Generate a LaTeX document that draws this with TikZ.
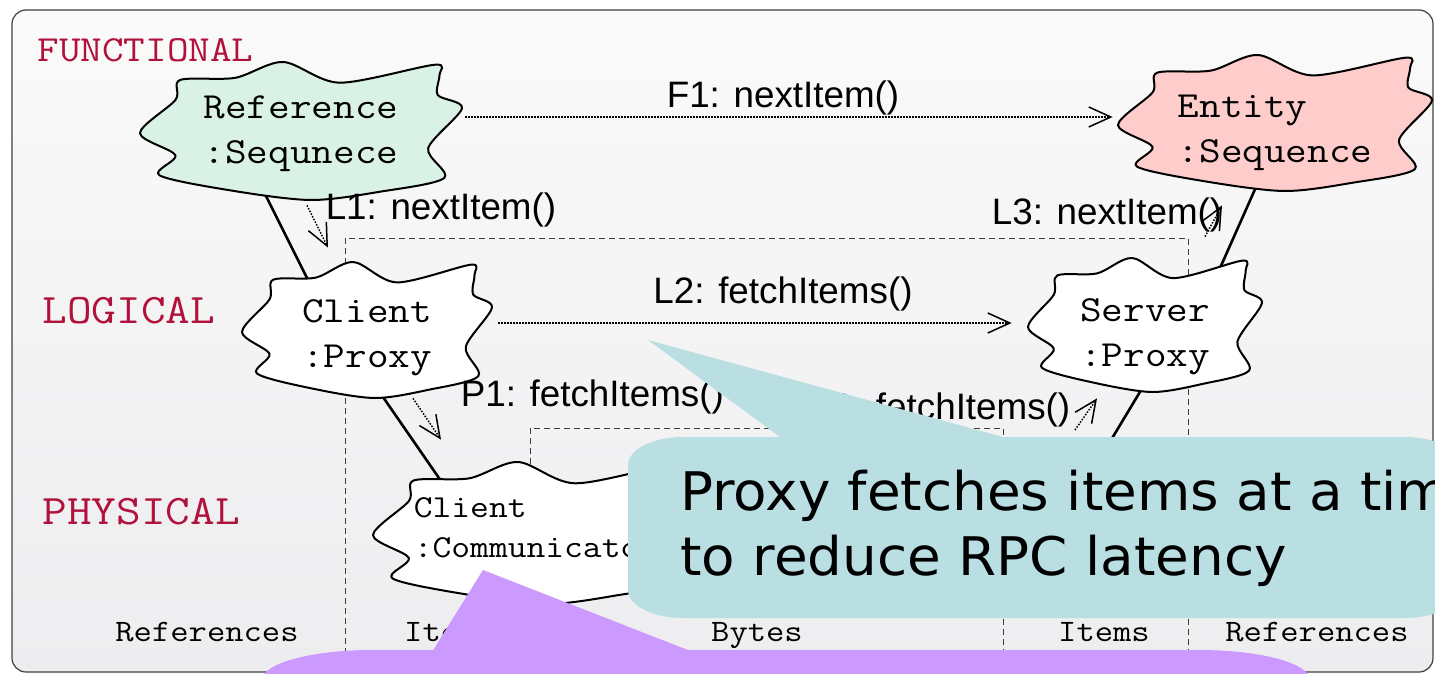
\documentclass[tikz,border=0pt]{standalone}
\usepackage{fontspec}
\setsansfont{Liberation Sans}
\setmonofont[FakeStretch=1.14]{Latin Modern Mono}
\newfontfamily\notefont[FakeStretch=1.03]{DejaVu Sans}
\usepackage{xcolor}
\usepackage{tikz}
\usetikzlibrary{calc,arrows.meta}
\definecolor{frameln}{HTML}{404040}
\definecolor{paneltop}{HTML}{FAFAFA}
\definecolor{panelbot}{HTML}{EDEDEF}
\definecolor{layer}{HTML}{B0123C}
\definecolor{refbg}{HTML}{DAF2E5}
\definecolor{entbg}{HTML}{FFCCCC}
\definecolor{notecyan}{HTML}{B9DFE3}
\definecolor{notepurple}{HTML}{CC99FF}
\definecolor{guide}{HTML}{3C3C3C}
\pgfdeclarelayer{back}
\pgfdeclarelayer{mid}
\pgfsetlayers{back,mid,main}
\newcommand{\blobpath}{plot[smooth cycle, tension=0.5] coordinates {(-0.75,-0.74) (-0.41,-0.77) (-0.11,-1.0) (0.24,-0.70) (0.83,-0.96) (0.86,-0.81) (0.85,-0.52) (1.0,-0.33) (0.79,0.25) (0.89,0.68) (0.49,0.88) (0.06,1.0) (-0.44,0.86) (-0.88,0.64) (-0.78,0.35) (-1.0,0.03) (-0.78,-0.45)}}
\newcommand{\blob}[8][]{%
  \draw[blob, fill=#7, shift={(#3,#4)}, xscale=#5, yscale=#6] \blobpath;
  \node[blobtxt, minimum width=#5pt, minimum height=#6pt, #1] (#2) at (#3,#4) {#8};}
\tikzset{
  blob/.style={draw=black, line width=1pt, line join=round},
  blobtxt/.style={font=\fontsize{18.4}{22.5}\selectfont\ttfamily, align=left, inner sep=0pt},
  layerlab/.style={text=layer, font=\fontsize{21}{25}\selectfont\ttfamily, anchor=west, inner sep=0pt},
  collab/.style={font=\fontsize{15.6}{18}\selectfont\ttfamily, inner sep=0pt, anchor=base},
  link/.style={draw=black, line width=1.3pt},
  call/.style={draw=black, line width=0.75pt, dash pattern=on 0.75pt off 0.75pt, -{Straight Barb[length=11pt,width=10pt]}},
  calllab/.style={font=\fontsize{18.4}{22}\selectfont\sffamily, inner sep=0pt},
  guideln/.style={draw=guide, line width=0.5pt, dash pattern=on 3pt off 2pt},
  notetxt/.style={font=\notefont\fontsize{26.6}{32.5}\selectfont, align=left, inner sep=0pt},
}
\begin{document}
\begin{tikzpicture}[x=0.5pt, y=-0.5pt]
  \useasboundingbox (0,0) rectangle (1435,674);
  \clip (0,0) rectangle (1435,674);

  % panel
  \begin{pgfonlayer}{back}
    \draw[frameln, line width=0.6pt, rounded corners=7pt, top color=paneltop, bottom color=panelbot] (12,10) rectangle (1433,672);
  \end{pgfonlayer}

  % layer names
  \node[layerlab, font=\fontsize{18.4}{22}\selectfont\ttfamily] (fun) at (37,50) {FUNCTIONAL};
  \node[layerlab] (log) at (42,311) {LOGICAL};
  \node[layerlab] (phy) at (42,512) {PHYSICAL};

  % objects
  \blob[yshift=-1.5pt]{ref}{301}{131}{161}{69}{refbg}{Reference\\:Sequnece}
  \blob[yshift=-5pt]{ent}{1275}{123}{157}{68}{entbg}{Entity\\:Sequence}
  \blob[yshift=-4pt]{cprox}{367}{330}{125}{68}{white}{Client\\:Proxy}
  \blob[yshift=-6pt]{sprox}{1145}{325}{117}{67}{white}{Server\\:Proxy}
  \blob[font=\fontsize{16}{20}\selectfont\ttfamily, yshift=2.5pt]{ccomm}{536}{533}{163}{71}{white}{Client\\:Communicator}
  \coordinate (scomm) at (1099,460);

  % scopes and links under the objects
  \begin{pgfonlayer}{mid}
    \draw[guideln] (345,674) -- (345,238) -- (1188,238) -- (1188,674);
    \draw[guideln] (530,674) -- (530,428) -- (1003,428) -- (1003,674);
    \draw[link] ([xshift=-33pt]ref.center) -- ([xshift=-15pt]cprox.center);
    \draw[link] ([xshift=-12.4pt]cprox.center) -- ([xshift=-31.25pt]ccomm.center);
    \draw[link] ([xshift=2.5pt]ent.center) -- ([xshift=22.2pt]sprox.center);
    \draw[link] ([xshift=14pt]sprox.center) -- (scomm);
  \end{pgfonlayer}

  % calls
  \draw[call, shorten <=1.5pt, shorten >=2.5pt] ([yshift=8.5pt]ref.east) -- ([yshift=8.5pt]ref.east -| ent.west)
    node[calllab, midway, above=0.5pt, xshift=-3.5pt] (f1) {F1: nextItem()};
  \draw[call, shorten <=3pt, shorten >=8pt] ([yshift=7.5pt]cprox.east) -- ([yshift=7.5pt]cprox.east -| sprox.west)
    node[calllab, midway, above=5.5pt, xshift=11.5pt] (l2) {L2: fetchItems()};
  \draw[call] ([xshift=3pt,yshift=-1pt]ref.south) -- ([xshift=-19.5pt,yshift=11pt]cprox.north)
    node[calllab, pos=0, anchor=west, xshift=9pt, yshift=-2.5pt] (l1) {L1: nextItem()};
  \draw[call] ([xshift=30pt,yshift=16.5pt]sprox.north) -- ([xshift=-26.5pt,yshift=-2pt]ent.south)
    node[calllab, pos=0, anchor=east, xshift=9pt, yshift=11pt] (l3) {L3: nextItem()};
  \draw[call] ([xshift=23pt,yshift=4pt]cprox.south) -- ([xshift=-47.5pt,yshift=8.5pt]ccomm.north)
    node[calllab, pos=0, anchor=west, xshift=23.5pt, yshift=0.5pt] (p1) {P1: fetchItems()};
  \draw[call] ([xshift=-12pt,yshift=15pt]scomm) -- ([xshift=-24pt,yshift=3pt]sprox.south)
    node[calllab, pos=0, anchor=east, xshift=-2pt, yshift=10pt] (p3) {P3: fetchItems()};

  % columns
  \node[collab] (colref) at (207,641) {References};
  \node[collab] (colitem) at (450,641) {Items};
  \node[collab] (colbyte) at (757,641) {Bytes};
  \node[collab] (colitem2) at (1104,641) {Items};
  \node[collab] (colref2) at (1317,641) {References};

  % cyan note
  \fill[notecyan] (648,340) -- (780,437) -- (1003,437) -- cycle;
  \fill[notecyan] (628,465) arc[start angle=180, end angle=90, x radius=27.5pt, y radius=14pt]
    -- (1405,437) arc[start angle=90, end angle=0, x radius=27.5pt, y radius=14pt]
    -- (1460,590) arc[start angle=0, end angle=-90, x radius=27.5pt, y radius=14pt]
    -- (683,618) arc[start angle=270, end angle=180, x radius=27.5pt, y radius=14pt] -- cycle;
  \node[notetxt, anchor=base west] (cyantext) at (680,575) {Proxy fetches items at a time\\to reduce RPC latency};

  % purple note
  \fill[notepurple] (483,570) -- (432,652) -- (693,652) -- cycle;
  \fill[notepurple] (262,680) arc[start angle=180, end angle=90, x radius=55pt, y radius=15pt]
    -- (1200,650) arc[start angle=90, end angle=0, x radius=55pt, y radius=15pt]
    -- (1310,760) -- (262,760) -- cycle;
\end{tikzpicture}
\end{document}
